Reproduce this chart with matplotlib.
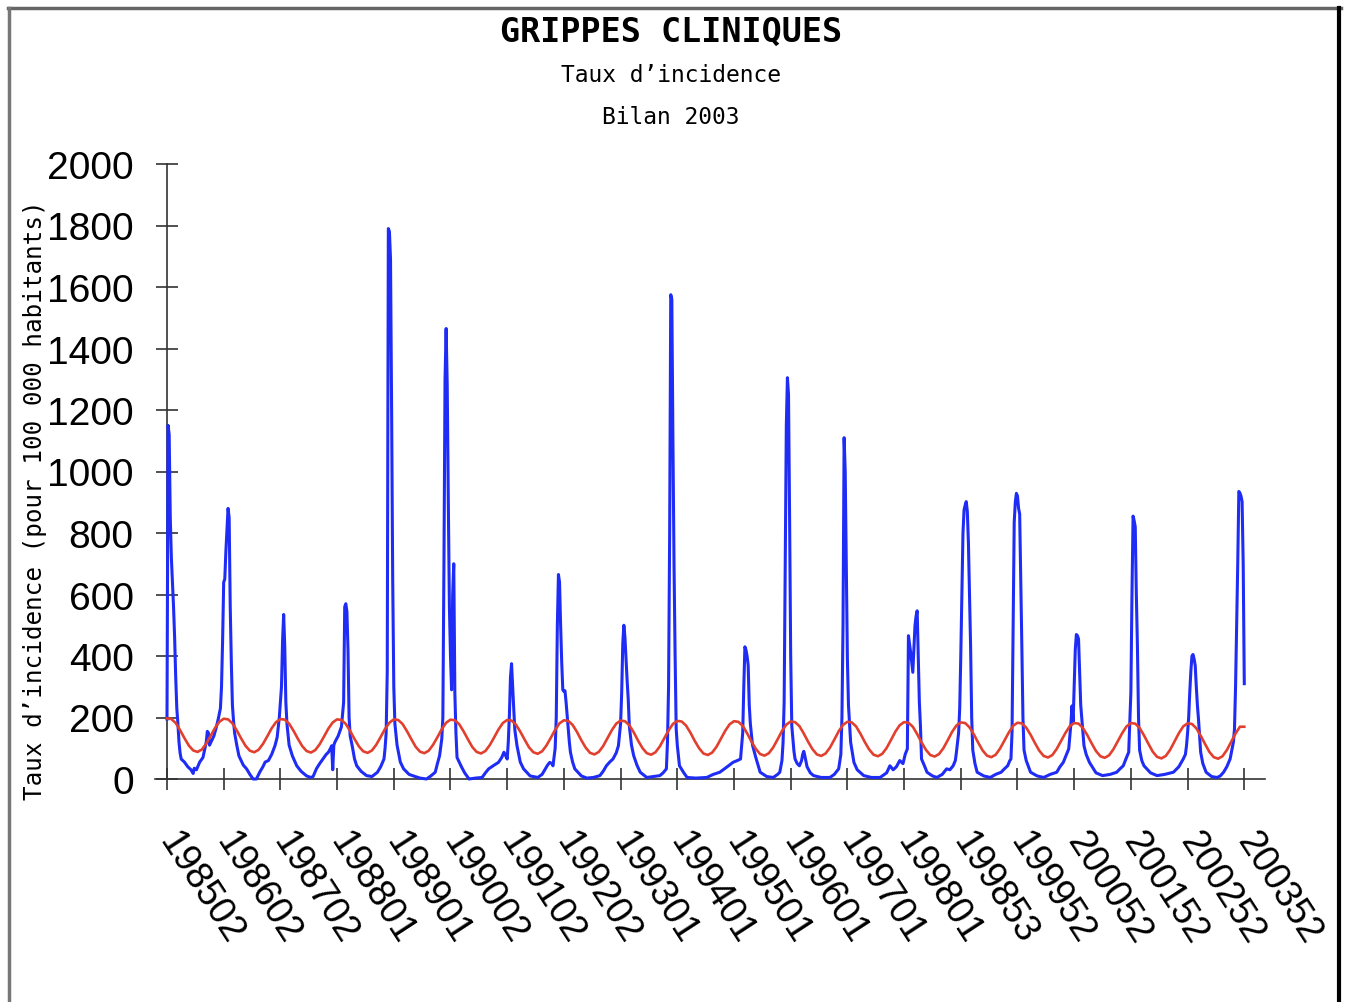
import matplotlib.pyplot as plt
from matplotlib.lines import Line2D

# weekly index (0 = 1985 week 02), 52 weeks between labelled ticks
tick_labels = ["198502", "198602", "198702", "198801", "198901", "199002",
               "199102", "199202", "199301", "199401", "199501", "199601",
               "199701", "199801", "199853", "199952", "200052", "200152",
               "200252", "200352"]
tick_weeks = [52 * i for i in range(len(tick_labels))]

# incidence (blue) at key weeks
blue_week = [
    0, 1, 2, 3, 4, 5, 6, 7, 8, 9, 10, 11, 12, 13, 16, 19, 22, 24, 25, 27, 30, 33, 36, 37, 38, 39, 41, 43, 45, 47, 49,
    50, 51, 52, 53, 54, 55, 56, 57, 58, 59, 60, 61, 62, 64, 66, 70, 73, 76, 79, 82, 85, 88, 90, 93, 96, 99, 101,
    103, 105, 106, 107, 108, 109, 110, 112, 115, 119, 123, 128, 132, 134, 137, 140, 143, 146, 148, 150, 151, 152, 153, 154, 157, 160,
    162, 163, 164, 165, 166, 167, 168, 170, 172, 174, 178, 183, 188, 193, 196, 199, 200, 201,
    202, 203, 204, 205, 206, 207, 208, 209, 211, 214, 217, 222, 226, 232, 238, 242, 246, 248, 250, 252,
    253, 254, 255, 256, 257, 258, 259, 260, 261, 262, 263, 264, 265, 266, 270, 273, 277, 283, 289, 292, 295, 300, 304, 307, 309, 310, 312,
    313, 314, 315, 316, 317, 318, 319, 321, 324, 327, 333, 340, 344, 347, 349, 351, 353, 354,
    356, 357, 358, 359, 360, 361, 362, 363, 364, 365, 366, 367, 369, 370, 372, 374, 380, 385, 391, 397, 400, 403, 406, 409, 412, 414,
    416, 417, 418, 419, 420, 421, 422, 423, 424, 426, 428, 431, 434, 440, 446, 452, 455, 458,
    459, 460, 461, 462, 463, 464, 465, 466, 467, 468, 470, 474, 477, 485, 495, 501, 507, 512, 515, 519, 523, 526,
    528, 529, 530, 531, 532, 533, 534, 535, 537, 540, 544, 550, 556, 560, 562, 564,
    565, 566, 567, 568, 569, 570, 571, 572, 573, 575, 576, 578, 580, 582, 583, 584, 585, 587, 590, 593, 600, 608, 612, 616,
    618, 619, 620, 621, 622, 623, 624, 625, 627, 630, 633, 639, 646, 654, 660, 663, 666, 669, 672, 675, 677, 679,
    680, 681, 682, 683, 684, 685, 686, 687, 688, 689, 690, 691, 692, 695, 697, 702, 706, 711, 715, 718, 721, 723, 724,
    726, 727, 728, 729, 730, 731, 732, 733, 734, 735, 736, 737, 738, 739, 741, 743, 749, 755, 760, 765, 768, 771, 773, 774,
    775, 776, 777, 778, 779, 780, 781, 782, 783, 784, 785, 786, 788, 792, 798, 804, 810, 816, 819, 822, 825, 827,
    829, 830, 831, 832, 833, 834, 835, 836, 837, 838, 839, 841, 843, 846, 852, 858, 865, 871, 874, 877, 880, 882,
    883, 884, 885, 886, 887, 888, 889, 890, 891, 892, 894, 896, 902, 908, 915, 923, 928, 932, 934, 935,
    936, 937, 938, 939, 940, 941, 942, 943, 944, 945, 946, 948, 950, 953, 958, 963, 966, 969, 972, 975, 978,
    979, 980, 981, 982, 983, 984, 985, 986, 987, 988,
]
blue_value = [
    195, 1150, 1120, 850, 720, 640, 560, 460, 330, 230, 180, 120, 85, 65, 55, 40, 30, 18, 35, 30, 55, 70, 120, 155, 150, 110, 125, 140, 165, 195, 230,
    300, 450, 640, 650, 740, 810, 880, 850, 560, 380, 240, 190, 150, 110, 75, 45, 33, 15, 0, 0, 22, 40, 55, 60, 80, 108, 135,
    200, 300, 450, 535, 430, 250, 180, 110, 75, 43, 25, 10, 5, 8, 33, 50, 65, 80, 87, 100, 108, 30, 110, 120, 140, 170,
    250, 560, 570, 545, 420, 200, 140, 105, 65, 43, 25, 11, 8, 22, 40, 65, 100, 150,
    350, 1790, 1780, 1690, 1200, 650, 300, 180, 110, 55, 33, 15, 10, 3, 0, 10, 22, 50, 76, 130,
    200, 700, 1300, 1465, 1280, 900, 560, 400, 290, 600, 700, 280, 150, 70, 40, 20, 0, 3, 5, 20, 33, 45, 54, 70, 87, 80, 65,
    120, 206, 330, 375, 300, 228, 160, 108, 55, 33, 10, 5, 15, 33, 45, 54, 50, 43,
    100, 200, 500, 665, 640, 500, 380, 290, 285, 287, 250, 206, 120, 87, 55, 33, 10, 3, 5, 11, 25, 43, 55, 65, 85, 108,
    180, 280, 440, 500, 460, 390, 320, 260, 173, 110, 76, 45, 22, 5, 8, 11, 20, 33,
    120, 300, 800, 1575, 1560, 1100, 700, 400, 162, 110, 43, 20, 5, 3, 5, 15, 22, 35, 43, 54, 60, 65,
    150, 300, 430, 420, 400, 370, 240, 180, 110, 70, 22, 8, 5, 15, 22, 60,
    119, 250, 700, 1150, 1305, 1250, 850, 400, 173, 90, 65, 50, 43, 60, 80, 90, 75, 40, 20, 11, 5, 5, 15, 33,
    80, 200, 500, 1110, 1000, 700, 390, 240, 119, 54, 30, 11, 5, 5, 20, 43, 30, 40, 60, 50, 80, 98,
    466, 440, 412, 380, 347, 420, 499, 530, 547, 400, 250, 173, 65, 40, 22, 10, 5, 15, 33, 30, 43, 60, 87,
    150, 228, 400, 600, 800, 875, 890, 902, 870, 768, 600, 431, 200, 94, 50, 22, 10, 5, 15, 22, 33, 43, 60, 65,
    152, 500, 835, 900, 929, 920, 880, 862, 650, 431, 200, 94, 60, 22, 10, 5, 15, 22, 40, 54, 80, 98,
    180, 238, 184, 300, 420, 470, 466, 455, 350, 240, 195, 108, 80, 54, 20, 11, 15, 22, 33, 43, 70, 87,
    180, 282, 600, 855, 840, 820, 600, 431, 200, 94, 60, 43, 20, 11, 15, 22, 40, 65, 80, 108,
    150, 200, 282, 350, 400, 405, 390, 369, 300, 240, 195, 87, 50, 22, 8, 5, 10, 22, 40, 65, 120,
    162, 300, 500, 700, 935, 930, 920, 902, 700, 310,
]

# epidemic threshold (red), read every 4 weeks
red_week = list(range(0, 989, 4))
red_value = [
    197, 195, 182, 159, 133, 109, 93, 88, 96, 115, 140, 166, 186,
    196, 194, 181, 158, 132, 108, 92, 87, 95, 114, 139, 165, 185,
    195, 193, 180, 157, 131, 107, 91, 86, 94, 113, 138, 164, 184,
    194, 192, 179, 156, 130, 106, 90, 85, 93, 112, 137, 163, 183,
    194, 192, 179, 156, 130, 105, 89, 84, 92, 111, 136, 162, 183,
    193, 191, 178, 155, 129, 104, 88, 83, 91, 110, 135, 161, 182,
    192, 190, 177, 154, 128, 103, 87, 82, 90, 109, 134, 160, 181,
    191, 189, 176, 153, 126, 102, 85, 80, 88, 107, 133, 159, 180,
    190, 188, 175, 152, 125, 101, 84, 79, 87, 106, 132, 158, 179,
    189, 187, 174, 151, 124, 100, 83, 78, 86, 105, 131, 157, 178,
    188, 186, 173, 149, 122, 98, 81, 76, 84, 103, 129, 156, 177,
    187, 185, 172, 148, 121, 97, 80, 75, 83, 102, 128, 155, 176,
    186, 184, 171, 147, 120, 96, 79, 74, 82, 101, 127, 154, 175,
    185, 183, 170, 146, 119, 95, 78, 73, 81, 100, 126, 153, 174,
    184, 182, 168, 145, 118, 93, 76, 71, 79, 99, 125, 151, 173,
    183, 181, 167, 144, 117, 92, 75, 70, 78, 98, 124, 150, 172,
    182, 180, 166, 143, 116, 91, 74, 69, 77, 97, 123, 149, 171,
    182, 180, 166, 142, 115, 89, 72, 67, 75, 95, 122, 149, 171,
    181, 179, 165, 141, 114, 88, 71, 66, 74, 94, 121, 148, 170,
    170,
]

W, H = 1347, 1003
fig = plt.figure(figsize=(W / 100, H / 100), dpi=100)
fig.patch.set_facecolor("white")

# axes placed to match the pixel layout of the original
ax = fig.add_axes([155 / W, 1 - 780 / H, 1110 / W, 615 / H])
ax.plot(blue_week, blue_value, color="#1f2cf5", lw=2.2, clip_on=False, zorder=3)
ax.plot(red_week, red_value, color="#e2402f", lw=1.9, clip_on=False, zorder=4)

ax.set_xlim(-11, 1007)
ax.set_ylim(0, 2000)
ax.spines["top"].set_visible(False)
ax.spines["right"].set_visible(False)
ax.spines["left"].set_position(("data", 0))
ax.spines["left"].set_color("#333333")
ax.spines["bottom"].set_color("#333333")
ax.spines["left"].set_linewidth(1.2)
ax.spines["bottom"].set_linewidth(1.2)

ax.set_yticks(range(0, 2001, 200))
ax.set_yticklabels([str(v) for v in range(0, 2001, 200)],
                   fontfamily="Liberation Sans", fontsize=28)
ax.tick_params(axis="y", direction="inout", length=16, width=1.2,
               color="#333333", pad=16)

ax.set_xticks(tick_weeks)
ax.set_xticklabels(tick_labels, fontfamily="Liberation Sans", fontsize=27,
                   rotation=-57, rotation_mode="anchor", ha="left", va="center")
ax.tick_params(axis="x", direction="inout", length=16, width=1.2,
               color="#333333", pad=32)

# titles
fig.text(0.498, 1 - 32 / H, "GRIPPES CLINIQUES", ha="center", va="center",
         fontfamily="DejaVu Sans Mono", fontsize=24, fontweight="bold")
fig.text(0.498, 1 - 75 / H, "Taux d\u2019incidence", ha="center", va="center",
         fontfamily="DejaVu Sans Mono", fontsize=16.5)
fig.text(0.498, 1 - 117 / H, "Bilan 2003", ha="center", va="center",
         fontfamily="DejaVu Sans Mono", fontsize=16.5)
fig.text(35 / W, 1 - 500 / H, "Taux d\u2019incidence (pour 100 000 habitants)",
         rotation=90, ha="center", va="center",
         fontfamily="DejaVu Sans Mono", fontsize=17.5)

# frame of the original picture
fig.add_artist(Line2D([8 / W, 1341 / W], [1 - 9 / H, 1 - 9 / H], color="#666666", lw=2.5))
fig.add_artist(Line2D([9 / W, 9 / W], [0, 1 - 9 / H], color="#777777", lw=2.5))
fig.add_artist(Line2D([1339 / W, 1339 / W], [0, 1 - 9 / H], color="black", lw=3))

fig.savefig("out.png", dpi=100)
